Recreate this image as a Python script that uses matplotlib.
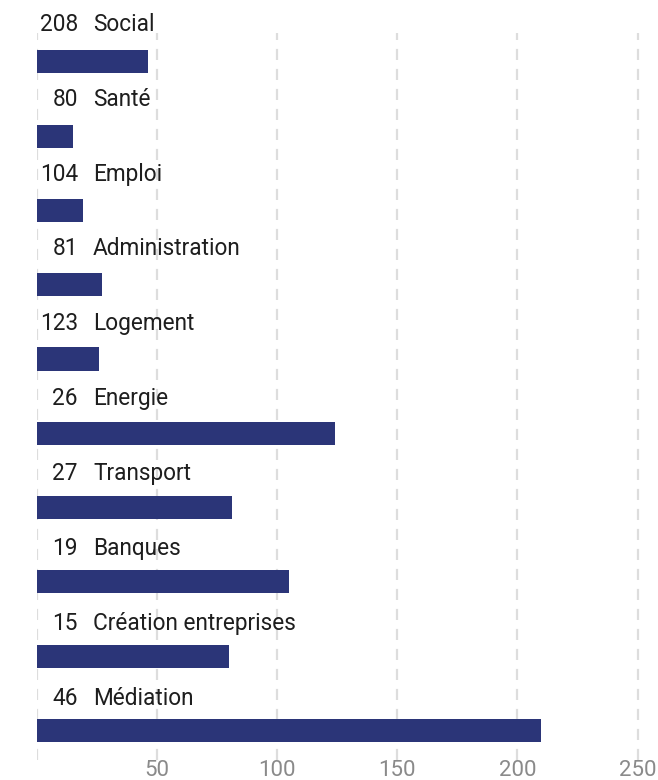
import matplotlib
matplotlib.use("Agg")
import matplotlib.pyplot as plt

# ── data ──────────────────────────────────────────────────────────────────────
categories   = ["Social", "Santé", "Emploi", "Administration", "Logement",
                "Energie", "Transport", "Banques", "Création entreprises", "Médiation"]
bar_values   = [46, 15, 19, 27, 26, 124, 81, 105, 80, 210]
label_values = [208, 80, 104, 81, 123, 26, 27, 19, 15, 46]
ticks        = [50, 100, 150, 200, 250]

BAR_COLOR  = "#2b3578"
FONT       = ["Roboto", "DejaVu Sans"]
plt.rcParams["font.family"] = FONT

# ── plot ──────────────────────────────────────────────────────────────────────
fig = plt.figure(figsize=(6.58, 7.80), dpi=100)
ax = fig.add_axes([37/658, 20/780, 621/658, 727/780])

ypos = list(range(len(categories)))
ax.barh(ypos, bar_values, height=0.31, color=BAR_COLOR, zorder=3)

# labels sit a bit above each bar, with slightly wider spacing than the bars
for y, name, val in zip(ypos, categories, label_values):
    ly = y - 0.511 + 0.0099 * y
    ax.annotate(str(val), xy=(0, ly), xytext=(29.5, 0), textcoords="offset points",
                ha="right", va="center", fontsize=16.3, color="#1e1e1e", annotation_clip=False)
    ax.annotate(name, xy=(0, ly), xytext=(40.3, 0), textcoords="offset points",
                ha="left", va="center", fontsize=16.3, color="#1e1e1e", annotation_clip=False)

ax.set_xlim(0, 258.5)
ax.set_ylim(9.40, -0.39)
ax.set_xticks([0] + ticks)
ax.set_xticklabels([""] + [str(t) for t in ticks])
ax.set_yticks([])
ax.tick_params(axis="x", length=0, pad=0, labelsize=16, labelcolor="#8a8a8a")
ax.grid(True, axis="x", color="#dddddd", linestyle=(0, (5, 4)), linewidth=1.6, zorder=0)
for s in ax.spines.values():
    s.set_visible(False)

fig.savefig("out.png", dpi=100)
